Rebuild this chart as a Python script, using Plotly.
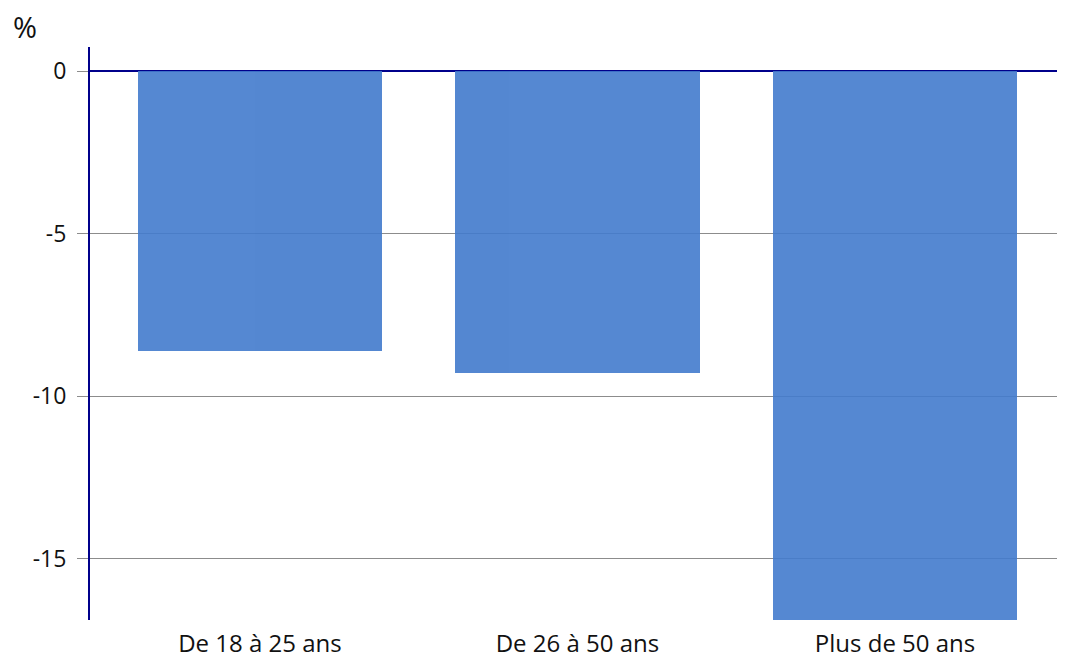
import plotly.graph_objects as go

categories = ["De 18 à 25 ans", "De 26 à 50 ans", "Plus de 50 ans"]
values = [-8.62, -9.28, -16.9]
y_ticks = [0, -5, -10, -15]

fig = go.Figure(
    go.Bar(
        x=list(range(len(categories))),
        y=values,
        width=0.77,
        marker=dict(color="rgb(66,123,205)", line=dict(width=0)),
        opacity=0.9,
    )
)

fig.update_layout(
    width=1049,
    height=651,
    margin=dict(l=82, r=0, t=39, b=39, autoexpand=False),
    plot_bgcolor="white",
    paper_bgcolor="white",
    showlegend=False,
    font=dict(family="Open Sans", size=23, color="#111111"),
    bargap=0,
)

fig.update_xaxes(
    range=[-0.535, 2.51],
    tickmode="array",
    tickvals=list(range(len(categories))),
    ticktext=categories,
    tickfont=dict(size=24),
    showgrid=False,
    zeroline=False,
    showline=False,
    ticks="",
    ticklabelstandoff=7,
    automargin=False,
)

fig.update_yaxes(
    range=[-16.89, 0.74],
    tickmode="array",
    tickvals=y_ticks,
    ticktext=[str(v) for v in y_ticks],
    showgrid=True,
    gridcolor="#8c8c8c",
    gridwidth=1,
    zeroline=True,
    zerolinecolor="#00008b",
    zerolinewidth=2,
    showline=True,
    linecolor="#00008b",
    linewidth=2,
    ticks="outside",
    ticklen=11,
    tickcolor="#8c8c8c",
    tickwidth=1,
    ticklabelstandoff=6,
    automargin=False,
)

fig.add_annotation(
    text="%",
    xref="paper",
    yref="paper",
    x=0,
    y=1.0,
    xanchor="left",
    yanchor="bottom",
    xshift=-78,
    yshift=0,
    borderpad=0,
    showarrow=False,
    font=dict(family="Open Sans", size=29, color="#111111"),
)

fig.write_html("out.html")
